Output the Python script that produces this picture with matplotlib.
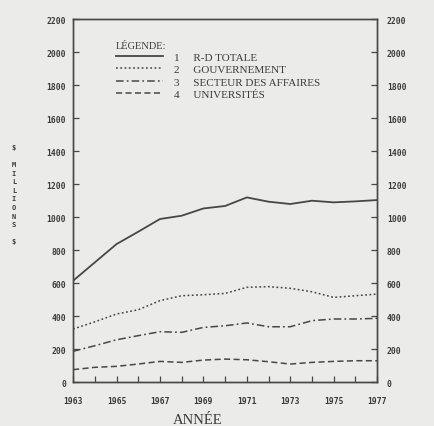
import matplotlib
matplotlib.use("Agg")
import matplotlib.pyplot as plt
from matplotlib.ticker import MultipleLocator

# donnees (millions de $)
annees = [1963, 1964, 1965, 1966, 1967, 1968, 1969, 1970,
          1971, 1972, 1973, 1974, 1975, 1976, 1977]
rd_totale = [614, 725, 836, 911, 988, 1008, 1052, 1067,
             1119, 1093, 1079, 1099, 1089, 1095, 1103]
gouvernement = [321, 365, 412, 438, 493, 523, 529, 537,
                574, 578, 568, 547, 513, 523, 533]
affaires = [186, 220, 256, 281, 305, 301, 331, 341,
            358, 335, 335, 372, 382, 382, 386]
universites = [75, 89, 95, 109, 125, 119, 133, 139,
               135, 123, 109, 119, 125, 129, 129]

labels = ["1     R-D TOTALE", "2     GOUVERNEMENT",
          "3     SECTEUR DES AFFAIRES", "4     UNIVERSITÉS"]
yticks = list(range(0, 2201, 200))
xticks = [1963, 1965, 1967, 1969, 1971, 1973, 1975, 1977]

bg = "#ebebe9"
ink = "#474747"
txt = "#3a3a3a"

fig = plt.figure(figsize=(4.35, 4.27), dpi=100, facecolor=bg)
ax = fig.add_axes([0.168, 0.103, 0.699, 0.850], facecolor=bg)

ax.plot(annees, rd_totale, color=ink, lw=1.3, ls="-", label=labels[0])
ax.plot(annees, gouvernement, color=ink, lw=1.1, ls=(0, (1.2, 1.6)), label=labels[1])
ax.plot(annees, affaires, color=ink, lw=1.1, ls=(0, (5, 2, 1.2, 2)), label=labels[2])
ax.plot(annees, universites, color=ink, lw=1.1, ls=(0, (4, 2.2)), label=labels[3])

ax.set_xlim(1963, 1977)
ax.set_ylim(0, 2200)
ax.set_xticks(xticks)
ax.xaxis.set_minor_locator(MultipleLocator(1))
ax.set_yticks(yticks)

tickfont = {"family": "DejaVu Sans Mono", "weight": "bold", "size": 5.8}
ax.set_xticklabels([str(x) for x in xticks], fontdict=tickfont)
ax.set_yticklabels([str(y) for y in yticks], fontdict=tickfont)
ax.tick_params(axis="both", which="both", direction="in", colors=ink,
               labelcolor=txt, length=4, width=0.9)
ax.tick_params(axis="x", pad=10)
ax.tick_params(axis="y", pad=5)

ax2 = ax.twinx()
ax2.set_ylim(0, 2200)
ax2.set_yticks(yticks)
ax2.set_yticklabels([str(y) for y in yticks], fontdict=tickfont)
ax2.tick_params(axis="y", direction="in", colors=ink, labelcolor=txt,
                length=4, width=0.9, pad=7)

for a in (ax, ax2):
    for s in a.spines.values():
        s.set_color(ink)
        s.set_linewidth(1.0)

leg = ax.legend(loc="upper left", bbox_to_anchor=(0.125, 0.952), frameon=False,
                title="LÉGENDE:", alignment="left", handlelength=4.3,
                handletextpad=1.0, labelspacing=0.22, borderaxespad=0,
                prop={"family": "Liberation Serif", "size": 8})
leg.get_title().set_fontfamily("Liberation Serif")
leg.get_title().set_fontsize(7.5)
leg.get_title().set_color(txt)
for t in leg.get_texts():
    t.set_color(txt)

ax.set_xlabel("ANNÉE", family="Liberation Serif", fontsize=10.5, color=txt,
              labelpad=5)
ax.xaxis.set_label_coords(0.41, -0.085)

fig.text(0.032, 0.543, "$\n\nM\nI\nL\nL\nI\nO\nN\nS\n\n$", ha="center", va="center",
         family="DejaVu Sans Mono", weight="bold", fontsize=5, linespacing=1.52,
         color=txt)

fig.savefig("out.png", dpi=100, facecolor=bg)
